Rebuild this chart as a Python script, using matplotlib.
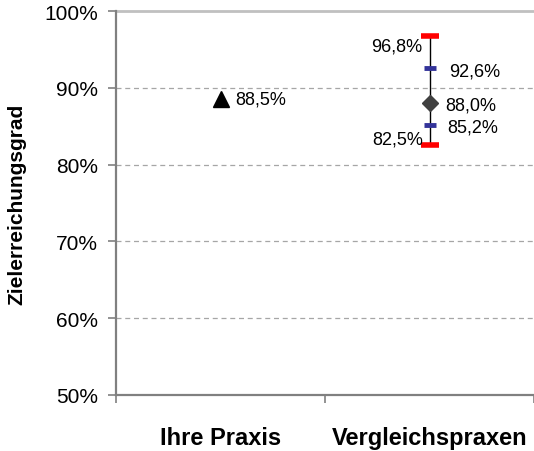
import numpy as np
import matplotlib
matplotlib.use("Agg")
import matplotlib.pyplot as plt
from matplotlib.ticker import FuncFormatter

plt.rcParams['font.family'] = ['Liberation Sans', 'DejaVu Sans']

categories = ["Ihre Praxis", "Vergleichspraxen"]
ihre_praxis = 0.885
vergleich_mittel = 0.880
vergleich_min = 0.825
vergleich_max = 0.968
vergleich_q1 = 0.852
vergleich_q3 = 0.926
y_ticks = [0.5, 0.6, 0.7, 0.8, 0.9, 1.0]

def pct(v):
    return ("%.1f%%" % (v * 100)).replace(".", ",")

fig = plt.figure(figsize=(5.34, 4.52), dpi=100)
ax = fig.add_axes([116/534, 56/452, 1 - 116/534, 384/452])
ax.set_xlim(0, 2)
ax.set_ylim(0.5, 1.0)

# grid
for t in y_ticks[1:-1]:
    ax.axhline(t, color="#a6a6a6", lw=0.9, ls=(0, (4, 3)), zorder=0)
ax.axhline(1.0, color="#c0c0c0", lw=2, zorder=0, clip_on=False)

# Ihre Praxis
ax.plot(0.5, ihre_praxis, marker="^", color="black", ms=12, ls="none", zorder=3)
ax.annotate(pct(ihre_praxis), (0.5, ihre_praxis), xytext=(15, 0),
            textcoords="offset pixels", va="center", ha="left", fontsize=13)

# Vergleichspraxen
x = 1.5
ax.plot([x, x], [vergleich_min, vergleich_max], color="black", lw=1, zorder=2)
ax.plot([x, x], [vergleich_min, vergleich_max], marker="_", color="red",
        ms=13, mew=4, ls="none", zorder=3)
ax.plot([x, x], [vergleich_q1, vergleich_q3], marker="_", color="#333399",
        ms=8.5, mew=3.5, ls="none", zorder=3)
ax.plot(x, vergleich_mittel, marker="D", color="#404040", ms=8.5, ls="none", zorder=4)

labels = [
    (vergleich_max, (-7, -10), "right"),
    (vergleich_q3, (20, -3), "left"),
    (vergleich_mittel, (16, -2), "left"),
    (vergleich_q1, (18, -2), "left"),
    (vergleich_min, (-6, 6), "right"),
]
for v, off, ha in labels:
    ax.annotate(pct(v), (x, v), xytext=off, textcoords="offset pixels",
                va="center", ha=ha, fontsize=13)

# axes styling
for s in ["top", "right"]:
    ax.spines[s].set_visible(False)
for s in ["left", "bottom"]:
    ax.spines[s].set_color("#808080")
    ax.spines[s].set_linewidth(1.6)

ax.set_yticks(y_ticks)
ax.yaxis.set_major_formatter(FuncFormatter(lambda v, p: "%d%%" % round(v * 100)))
ax.tick_params(axis="y", length=6, width=1.2, color="#808080", pad=7, labelsize=15)

ax.set_xticks([0.5, 1.5])
ax.set_xticklabels(categories, fontweight="bold", fontsize=17)
ax.tick_params(axis="x", which="major", length=0, pad=22)
ax.set_xticks([0, 1, 2], minor=True)
ax.tick_params(axis="x", which="minor", length=6, width=1.2, color="#808080")

fig.text(17/534, (452 - 204) / 452, "Zielerreichungsgrad", rotation=90,
         ha="center", va="center", fontsize=15, fontweight="bold")

fig.savefig("out.png", dpi=100)
